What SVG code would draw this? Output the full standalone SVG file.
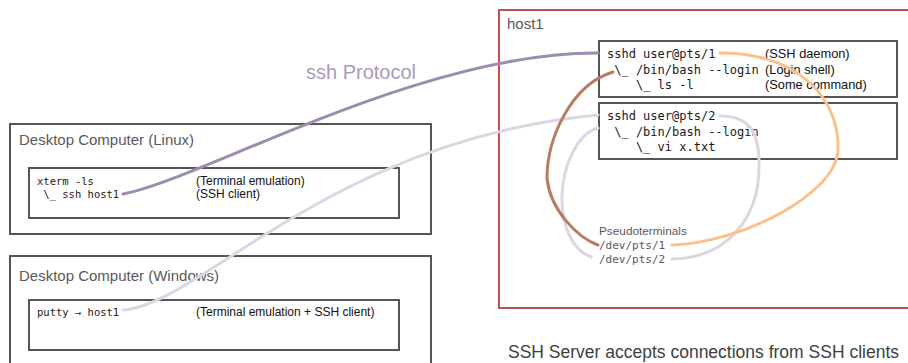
<svg xmlns="http://www.w3.org/2000/svg" width="908" height="363" viewBox="0 0 908 363">
<style>
.frame{fill:#fff;stroke:#555;stroke-width:2}
.inner{fill:none;stroke:#555;stroke-width:2}
.title{font-family:"Liberation Sans",Arial,sans-serif;fill:#595959}
.mono{font-family:"DejaVu Sans Mono","Liberation Mono",monospace;fill:#1a1a1a}
.lab{font-family:"Liberation Sans",Arial,sans-serif;fill:#111}
.con{fill:none;stroke-width:3;stroke-linecap:round}
</style>
<rect width="908" height="363" fill="#fff"/>
<g id="linux">
<rect class="frame" x="10" y="124" width="421" height="110"/>
<text class="title" x="19" y="145" font-size="15">Desktop Computer (Linux)</text>
<rect class="inner" x="29" y="168" width="370" height="50"/>
<text class="mono" x="37" y="184.5" font-size="10.5" xml:space="preserve">xterm -ls</text>
<text class="mono" x="37" y="197.5" font-size="10.5" xml:space="preserve"> \_ ssh host1</text>
<text class="lab" x="196" y="184.5" font-size="12">(Terminal emulation)</text>
<text class="lab" x="196" y="197.5" font-size="12">(SSH client)</text>
</g>
<g id="windows">
<rect class="frame" x="10" y="256" width="421" height="120"/>
<text class="title" x="19" y="281" font-size="15">Desktop Computer (Windows)</text>
<rect class="inner" x="29" y="300" width="370" height="50"/>
<text class="mono" x="37" y="316" font-size="10.5">putty → host1</text>
<text class="lab" x="196" y="316" font-size="12">(Terminal emulation + SSH client)</text>
</g>
<g id="host1">
<rect x="499" y="10" width="430" height="298" fill="none" stroke="#c0504d" stroke-width="2"/>
<text class="title" x="507" y="29" font-size="15">host1</text>
</g>
<g id="sshd1">
<rect class="frame" x="599" y="41" width="298" height="56"/>
<text class="mono" x="607" y="58" font-size="12" xml:space="preserve">sshd user@pts/1</text>
<text class="mono" x="607" y="73.5" font-size="12" xml:space="preserve"> \_ /bin/bash --login</text>
<text class="mono" x="607" y="89" font-size="12" xml:space="preserve">    \_ ls -l</text>
<text class="lab" x="765" y="58" font-size="12.8">(SSH daemon)</text>
<text class="lab" x="765" y="73.5" font-size="12.8">(Login shell)</text>
<text class="lab" x="765" y="89" font-size="12.8">(Some command)</text>
</g>
<g id="sshd2">
<rect class="frame" x="599" y="103" width="298" height="56"/>
<text class="mono" x="607" y="120" font-size="12" xml:space="preserve">sshd user@pts/2</text>
<text class="mono" x="607" y="135.5" font-size="12" xml:space="preserve"> \_ /bin/bash --login</text>
<text class="mono" x="607" y="151" font-size="12" xml:space="preserve">    \_ vi x.txt</text>
</g>
<g id="pts">
<text class="title" x="599" y="235" font-size="11.8">Pseudoterminals</text>
<text class="mono" x="599" y="249" font-size="11" fill="#595959" style="fill:#595959">/dev/pts/1</text>
<text class="mono" x="599" y="263" font-size="11" style="fill:#595959">/dev/pts/2</text>
</g>
<g id="connectors">
<path class="con" stroke="#dcd6e4" d="M123,310 C200,305 330,140 598,115"/>
<path class="con" stroke="#dcd6e4" d="M720,116 C752,116 760,135 759,170 C758,215 730,258 672,259"/>
<path class="con" stroke="#dcd6e4" d="M598,128 C578,133 563,165 562,195 C561,225 572,250 591,257"/>
<path class="con" stroke="#9e8bb0" d="M123,194 C200,180 420,52 598,53"/>
<path class="con" stroke="#b87c63" d="M613,72 C570,85 547,140 547,178 C550,210 578,238 598,245"/>
<path class="con" stroke="#fac28a" d="M720,53 C800,53 840,100 838,150 C836,195 740,243 672,245"/>
</g>
<text x="306" y="79" font-size="20" font-family="Liberation Sans, Arial, sans-serif" fill="#a99bbd">ssh Protocol</text>
<text x="508" y="358" font-size="17.5" font-family="Liberation Sans, Arial, sans-serif" fill="#404040">SSH Server accepts connections from SSH clients</text>
</svg>
